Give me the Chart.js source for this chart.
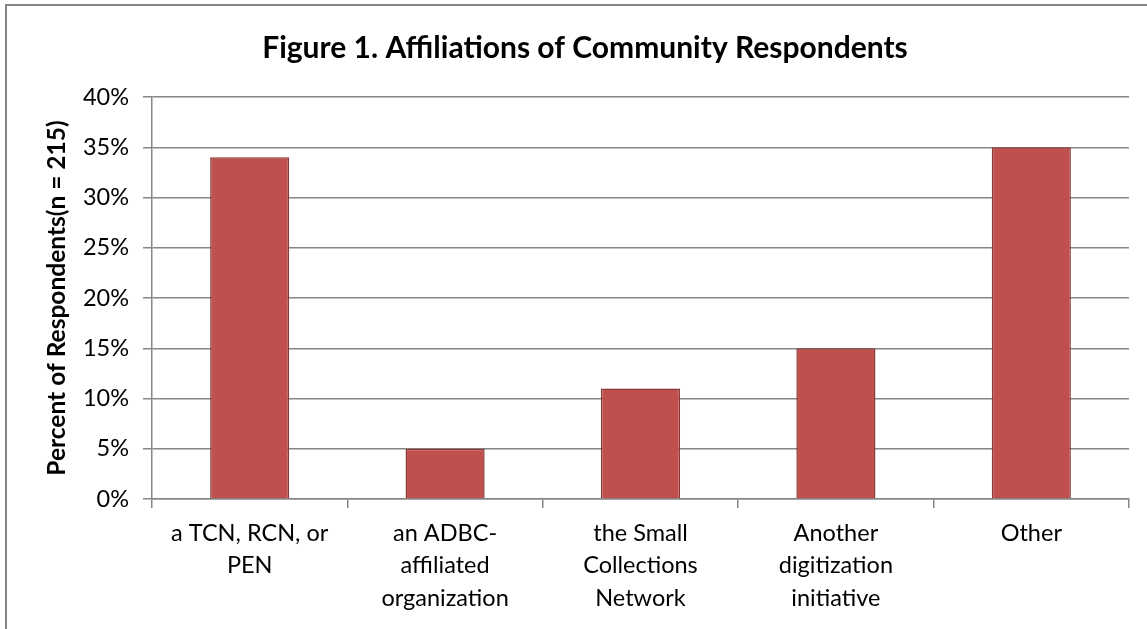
<!DOCTYPE html>
<html>
<head>
<meta charset="utf-8">
<script src="https://cdn.jsdelivr.net/npm/chart.js@4"></script>
<style>
    html, body { margin: 0; padding: 0; background: #ffffff; }
    #wrap { position: relative; width: 1147px; height: 629px; }
</style>
</head>
<body>
<div id="wrap"><canvas id="affiliationChart"></canvas></div>
<script>
// Figure 1 data
const categories = [
    ['a TCN, RCN, or', 'PEN'],
    ['an ADBC-', 'affiliated', 'organization'],
    ['the Small', 'Collections', 'Network'],
    ['Another', 'digitization', 'initiative'],
    ['Other']
];
const percentValues = [34, 5, 11, 15, 35];
const yTicks = [0, 5, 10, 15, 20, 25, 30, 35, 40];

const chartTitle = 'Figure 1. Affiliations of Community Respondents';
const yAxisTitle = 'Percent of Respondents(n = 215)';

const gridColor = '#868686';
const fontFamily = 'Lato, "Open Sans", sans-serif';

// Outer frame + title, drawn by hand to match the Excel layout
const framePlugin = {
    id: 'frame',
    beforeDraw(chart) {
        const c = chart.ctx;
        c.save();
        c.fillStyle = '#ffffff';
        c.fillRect(0, 0, chart.width, chart.height);
        c.strokeStyle = gridColor;
        c.lineWidth = 2;
        c.beginPath();
        c.moveTo(6, chart.height);
        c.lineTo(6, 5);
        c.lineTo(chart.width, 5);
        c.stroke();
        c.restore();
    },
    afterDraw(chart) {
        const c = chart.ctx;
        c.save();
        c.fillStyle = '#000000';
        c.font = 'bold 30px ' + fontFamily;
        c.textAlign = 'center';
        c.textBaseline = 'middle';
        c.fillText(chartTitle, 585, 48);
        c.restore();
    }
};

new Chart(document.getElementById('affiliationChart'), {
    type: 'bar',
    data: {
        labels: categories,
        datasets: [{
            label: 'Percent',
            data: percentValues,
            backgroundColor: '#C0504D',
            borderColor: '#8C3836',
            borderWidth: 1.5,
            barPercentage: 0.405,
            categoryPercentage: 1
        }]
    },
    options: {
        responsive: true,
        maintainAspectRatio: false,
        animation: false,
        layout: {
            padding: { left: 0, right: 18, top: 97, bottom: 0 }
        },
        plugins: {
            legend: { display: false },
            title: { display: false },
            tooltip: { enabled: false }
        },
        scales: {
            y: {
                min: 0,
                max: 40,
                afterBuildTicks(scale) {
                    scale.ticks = yTicks.map(v => ({ value: v }));
                },
                afterFit(scale) {
                    scale.width = 152;
                },
                ticks: {
                    color: '#000000',
                    padding: 14,
                    font: { family: fontFamily, size: 23.5 },
                    callback: function(value) {
                        return value + '%';
                    }
                },
                grid: {
                    color: gridColor,
                    lineWidth: 1.5,
                    tickLength: 9
                },
                border: { color: gridColor, width: 1.5 },
                title: {
                    display: true,
                    text: yAxisTitle,
                    color: '#000000',
                    font: { family: fontFamily, size: 24.5, weight: 'bold' },
                    padding: { top: 42, bottom: 0 }
                }
            },
            x: {
                afterFit(scale) {
                    scale.height = 629 - 499;
                },
                ticks: {
                    color: '#000000',
                    padding: 9,
                    maxRotation: 0,
                    font: { family: fontFamily, size: 23.5, lineHeight: 1.38 }
                },
                grid: {
                    color: gridColor,
                    lineWidth: 1.5,
                    tickLength: 9,
                    drawOnChartArea: false,
                    offset: true
                },
                border: { color: gridColor, width: 1.5 }
            }
        }
    },
    plugins: [framePlugin]
});
</script>
</body>
</html>
